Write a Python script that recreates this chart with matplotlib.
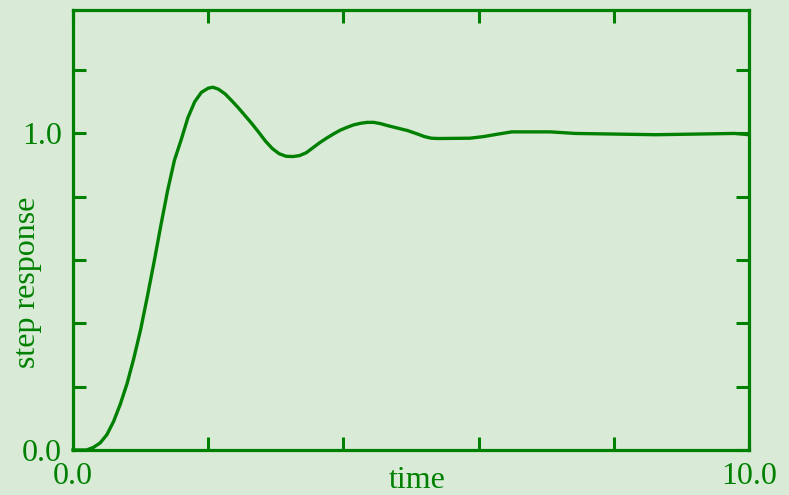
import numpy as np
import matplotlib
matplotlib.use('Agg')
import matplotlib.pyplot as plt

# step response samples (time, response)
t = [0.0, 0.20, 0.30, 0.40, 0.50, 0.60, 0.70, 0.80, 0.90, 1.00, 1.10, 1.20,
     1.30, 1.40, 1.50, 1.60, 1.70, 1.80, 1.90, 2.00, 2.07, 2.15, 2.25, 2.35,
     2.45, 2.55, 2.65, 2.75, 2.85, 2.95, 3.05, 3.15, 3.25, 3.35, 3.45, 3.55,
     3.65, 3.75, 3.85, 3.95, 4.05, 4.15, 4.25, 4.35, 4.45, 4.55, 4.65, 4.80,
     4.95, 5.10, 5.20, 5.30, 5.40, 5.87, 6.07, 6.26, 6.49, 7.06, 7.43, 8.62,
     9.79, 10.0]
y = [0.0, 0.0, 0.008, 0.022, 0.048, 0.090, 0.145, 0.210, 0.290, 0.380, 0.485, 0.595,
     0.710, 0.820, 0.915, 0.980, 1.050, 1.100, 1.130, 1.143, 1.146, 1.140, 1.125, 1.103,
     1.080, 1.055, 1.030, 1.003, 0.975, 0.952, 0.936, 0.928, 0.927, 0.930, 0.939, 0.955,
     0.971, 0.985, 0.998, 1.010, 1.019, 1.027, 1.032, 1.035, 1.035, 1.031, 1.025, 1.017,
     1.009, 0.998, 0.990, 0.985, 0.984, 0.985, 0.990, 0.997, 1.005, 1.005, 1.000, 0.996,
     1.000, 0.996]

xticks = [0, 2, 4, 6, 8, 10]
xticklabels = ['0.0', '', '', '', '', '10.0']
yticks = [0.0, 0.2, 0.4, 0.6, 0.8, 1.0, 1.2]
yticklabels = ['0.0', '', '', '', '', '1.0', '']

green = '#008000'
bg = '#d9ebd7'

plt.rcParams['font.family'] = ['Liberation Serif', 'DejaVu Serif']

fig = plt.figure(figsize=(7.89, 4.95), dpi=100, facecolor=bg)
ax = fig.add_axes([73/789, 45/495, 676/789, 440/495], facecolor=bg)

ax.plot(t, y, color=green, lw=2.4, solid_joinstyle='round', clip_on=False)

ax.set_xlim(0, 10)
ax.set_ylim(0, 1.39)
ax.set_xticks(xticks)
ax.set_xticklabels(xticklabels)
ax.set_yticks(yticks)
ax.set_yticklabels(yticklabels)

ax.tick_params(which='both', direction='in', top=True, right=True,
               length=9.5, width=2.2, color=green, labelcolor=green,
               labelsize=23)
ax.tick_params(axis='y', pad=8)
ax.tick_params(axis='x', pad=9)
for s in ax.spines.values():
    s.set_color(green)
    s.set_linewidth(2.3)

ax.set_xlabel('time', fontsize=23, color=green)
ax.xaxis.label.set_va('baseline')
ax.xaxis.set_label_coords(0.509, -0.087)
ax.set_ylabel('step response', fontsize=23, color=green)
ax.yaxis.label.set_va('center')
ax.yaxis.set_label_coords(-0.068, 0.382)

fig.savefig('out.png', dpi=100, facecolor=bg)
